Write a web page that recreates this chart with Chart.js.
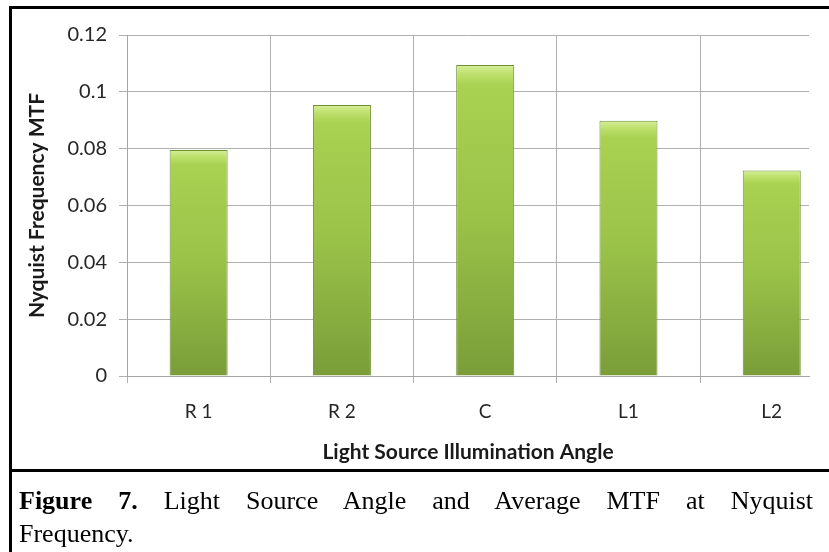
<!DOCTYPE html>
<html>
<head>
<meta charset="utf-8">
<script src="https://cdn.jsdelivr.net/npm/chart.js@4.4.1/dist/chart.umd.min.js"></script>
<style>
html,body{margin:0;padding:0;width:829px;height:552px;overflow:hidden;background:#fff;}
#chartBox{position:absolute;left:0;top:0;width:829px;height:470px;}
#frame1{position:absolute;left:9px;top:6px;width:900px;height:466px;border:3px solid #000;box-sizing:border-box;}
#frame2{position:absolute;left:9px;top:469px;width:900px;height:100px;border-left:3px solid #000;box-sizing:border-box;}
#cap{position:absolute;left:19px;top:484px;width:794px;font-family:"Liberation Serif","Times New Roman",serif;font-size:26px;line-height:33px;color:#000;}
#cap .l1{text-align:justify;text-align-last:justify;}
</style>
</head>
<body>
<div id="chartBox"><canvas id="c" width="829" height="470"></canvas></div>
<div id="frame1"></div>
<div id="frame2"></div>
<div id="cap">
  <div class="l1"><b>Figure 7.</b> Light Source Angle and Average MTF at Nyquist</div>
  <div>Frequency.</div>
</div>
<script>
const categories = ['R 1', 'R 2', 'C', 'L1', 'L2'];
const mtfValues = [0.0795, 0.0954, 0.1094, 0.0898, 0.0723];
const yTickValues = [0, 0.02, 0.04, 0.06, 0.08, 0.1, 0.12];
const yTickLabels = ['0', '0.02', '0.04', '0.06', '0.08', '0.1', '0.12'];
const xAxisTitle = 'Light Source Illumination Angle';
const yAxisTitle = 'Nyquist Frequency MTF';

const points = categories.map((c, i) => ({x: i, y: mtfValues[i]}));

function barFill(c) {
  const chart = c.chart;
  if (!chart.chartArea || !c.raw) return '#9cc64a';
  const ys = chart.scales.y;
  const top = ys.getPixelForValue(c.raw.y);
  const bot = ys.getPixelForValue(0);
  const g = chart.ctx.createLinearGradient(0, top, 0, bot);
  g.addColorStop(0, '#d6ee9a');
  g.addColorStop(0.03, '#bde06c');
  g.addColorStop(0.065, '#a9d252');
  g.addColorStop(0.5, '#99c248');
  g.addColorStop(1, '#7a9d39');
  return g;
}

const gridColor = '#b0b0b0';

new Chart(document.getElementById('c'), {
  type: 'bar',
  data: {
    datasets: [{
      data: points,
      backgroundColor: barFill,
      borderColor: '#6f9133',
      borderWidth: 1,
      barPercentage: 0.405,
      categoryPercentage: 1
    }]
  },
  options: {
    responsive: false,
    animation: false,
    devicePixelRatio: 1,
    layout: {padding: {top: 35, right: 20, bottom: 0, left: 0}},
    plugins: {legend: {display: false}, tooltip: {enabled: false}},
    scales: {
      x: {
        type: 'linear',
        offset: false,
        min: -0.5,
        max: 4.26,
        afterBuildTicks: (s) => { s.ticks = categories.map((c, i) => ({value: i})); },
        grid: {offset: true, color: gridColor, lineWidth: 1, drawTicks: true, tickLength: 7, tickColor: gridColor},
        border: {color: '#a4a4a4'},
        ticks: {
          callback: (v) => (categories[v] !== undefined ? categories[v] : ''),
          font: {family: 'Lato', size: 19},
          color: '#262626',
          padding: 17,
          maxRotation: 0,
          autoSkip: false
        },
        title: {display: true, text: xAxisTitle, font: {family: 'Lato', size: 21, weight: 'bold'}, color: '#1a1a1a', padding: {top: 0, bottom: 5}},
        afterFit: (s) => { s.height = 94; }
      },
      y: {
        min: 0,
        max: 0.12,
        afterBuildTicks: (s) => { s.ticks = yTickValues.map(v => ({value: v})); },
        grid: {color: gridColor, lineWidth: 1, tickLength: 8, tickColor: gridColor},
        border: {color: '#a4a4a4'},
        ticks: {
          callback: (v) => { const i = yTickValues.findIndex(t => Math.abs(t - v) < 1e-9); return i >= 0 ? yTickLabels[i] : ''; },
          font: {family: 'Lato', size: 20},
          color: '#262626',
          padding: 12
        },
        title: {display: true, text: yAxisTitle, font: {family: 'Lato', size: 21, weight: 'bold'}, color: '#1a1a1a', padding: {top: 25, bottom: 0}},
        afterFit: (s) => { s.width = 127; }
      }
    }
  }
});
</script>
</body>
</html>
